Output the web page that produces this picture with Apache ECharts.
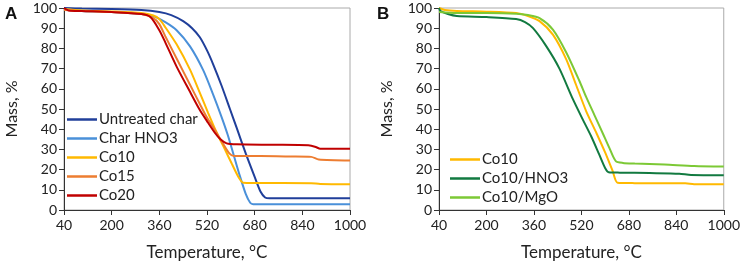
<!DOCTYPE html>
<html><head><meta charset="utf-8">
<script src="https://cdn.jsdelivr.net/npm/echarts@6/dist/echarts.min.js"></script>
<style>html,body{margin:0;padding:0;background:#fff}#c{width:743px;height:266px}</style>
</head><body><div id="c"></div>
<script>
// Tick labels
const xTicks = [40, 200, 360, 520, 680, 840, 1000];
const yTicks = [0, 10, 20, 30, 40, 50, 60, 70, 80, 90, 100];

// Panel A
const untreatedT = [40, 100, 200, 300, 360, 400, 440, 470, 496, 520, 541, 569, 597, 620, 650, 681, 700, 715, 730, 850, 1000];
const untreatedM = [100, 99.7, 99.5, 99, 98, 96.5, 93.5, 90, 85.5, 79, 72, 61.5, 50, 40.5, 28, 16, 9, 6.2, 5.8, 5.8, 5.8];
const charHNO3T = [40, 100, 200, 300, 340, 380, 418, 463, 508, 541, 569, 590, 610, 630, 650, 665, 675, 800, 1000];
const charHNO3M = [99.5, 98.5, 98, 97, 96, 93, 89, 81, 69, 57, 46, 37, 27, 17, 8, 3.6, 2.9, 2.9, 2.9];
const co10T = [40, 100, 200, 300, 340, 360, 380, 418, 463, 496, 524, 552, 580, 603, 625, 642, 680, 870, 900, 1000];
const co10M = [99.5, 98.8, 98.3, 97.5, 96.3, 94.5, 90.5, 82, 69.5, 58, 48, 38.5, 30, 23, 16.5, 13.5, 13.4, 13.3, 12.9, 12.8];
const co15T = [40, 100, 200, 300, 340, 360, 380, 418, 463, 496, 519, 547, 575, 595, 610, 700, 800, 870, 895, 1000];
const co15M = [99, 98.5, 98, 97, 95, 92, 86, 75, 62, 52.5, 46, 39.5, 32.5, 28, 26.7, 26.7, 26.5, 26.3, 25, 24.5];
const co20T = [40, 55, 100, 200, 300, 330, 360, 380, 418, 463, 496, 520, 545, 565, 586, 620, 750, 860, 885, 900, 1000];
const co20M = [100, 98.8, 98.5, 98, 97, 95.5, 89, 83, 71, 58.5, 49.5, 44, 38.5, 35, 33, 32.5, 32.3, 32, 31.2, 30.3, 30.3];

// Panel B
const bCo10T = [40, 60, 100, 200, 300, 340, 379, 424, 469, 502, 536, 571, 600, 625, 642, 700, 870, 900, 1000];
const bCo10M = [100, 99, 98.5, 98.2, 97.5, 96, 93.5, 86.8, 74.6, 62, 49, 38, 28.5, 19.5, 13.5, 13.3, 13.2, 12.8, 12.7];
const bHNO3T = [40, 45, 70, 100, 200, 300, 330, 357, 402, 446, 491, 524, 553, 580, 600, 612, 650, 750, 850, 890, 1000];
const bHNO3M = [100, 98.5, 97, 96, 95.5, 94.5, 93, 90, 81, 70, 55, 45, 36.5, 27.5, 20.8, 18.7, 18.5, 18.3, 18, 17.3, 17.2];
const bMgOT = [40, 100, 200, 300, 340, 379, 424, 469, 513, 536, 564, 592, 615, 636, 660, 700, 800, 900, 1000];
const bMgOM = [98, 97.5, 97.5, 97.2, 96.5, 95, 89.3, 78, 64, 56, 47, 38, 30.5, 24.2, 23.3, 23, 22.5, 21.8, 21.5];

const pairs = (t, m) => t.map((v, i) => [v, m[i]]);
const FONT = 'Lato';

function xAxis(gi) {
  return {
    type: 'value', gridIndex: gi, min: 40, max: 1000,
    name: 'Temperature, °C', nameLocation: 'middle', nameGap: 34,
    nameTextStyle: { fontFamily: FONT, fontSize: 17, color: '#222' },
    axisLine: { lineStyle: { color: '#333', width: 1 } },
    axisTick: { show: true, inside: false, length: 5, customValues: xTicks, lineStyle: { color: '#333' } },
    axisLabel: { customValues: xTicks, formatter: v => String(v), fontFamily: FONT, fontSize: 14, color: '#222', margin: 8 },
    splitLine: { show: false }
  };
}
function yAxis(gi) {
  return {
    type: 'value', gridIndex: gi, min: 0, max: 100, interval: 10,
    name: 'Mass, %', nameLocation: 'middle', nameGap: 44, nameRotate: 90,
    nameTextStyle: { fontFamily: FONT, fontSize: 16, color: '#222' },
    axisLine: { show: true, lineStyle: { color: '#333', width: 1 } },
    axisTick: { show: true, inside: false, length: 5, lineStyle: { color: '#333' } },
    axisLabel: { fontFamily: FONT, fontSize: 14, color: '#222', margin: 7 },
    splitLine: { show: false }
  };
}
function line(name, data, color, gi) {
  return {
    name, type: 'line', data, xAxisIndex: gi, yAxisIndex: gi,
    showSymbol: false, symbol: 'none', smooth: 0.25,
    lineStyle: { color, width: 2 }, itemStyle: { color }
  };
}
function legend(names, left, top) {
  return {
    data: names, orient: 'vertical', left, top, icon: 'rect',
    itemWidth: 30, itemHeight: 2.5, itemGap: 4,
    textStyle: { fontFamily: FONT, fontSize: 15, color: '#222', padding: [0, 0, 0, -3] }
  };
}

const chart = echarts.init(document.getElementById('c'));
chart.setOption({
  animation: false,
  backgroundColor: '#fff',
  grid: [
    { left: 64, top: 8, width: 286, height: 205, show: true, borderColor: '#aaa', borderWidth: 1 },
    { left: 439, top: 8, width: 286, height: 205, show: true, borderColor: '#aaa', borderWidth: 1 }
  ],
  xAxis: [xAxis(0), xAxis(1)],
  yAxis: [yAxis(0), yAxis(1)],
  legend: [
    legend(['Untreated char', 'Char HNO3', 'Co10', 'Co15', 'Co20'], 62, 107),
    legend(['Co10 ', 'Co10/HNO3', 'Co10/MgO'], 445, 147)
  ],
  graphic: [
    { type: 'text', left: 5, top: 6, style: { text: 'A', font: 'bold 17px Arial', fill: '#111' } },
    { type: 'text', left: 377, top: 6, style: { text: 'B', font: 'bold 17px Arial', fill: '#111' } }
  ],
  series: [
    line('Untreated char', pairs(untreatedT, untreatedM), '#203F9A', 0),
    line('Char HNO3', pairs(charHNO3T, charHNO3M), '#4A90D9', 0),
    line('Co10', pairs(co10T, co10M), '#FFB900', 0),
    line('Co15', pairs(co15T, co15M), '#ED7D31', 0),
    line('Co20', pairs(co20T, co20M), '#C00000', 0),
    line('Co10 ', pairs(bCo10T, bCo10M), '#FFB900', 1),
    line('Co10/HNO3', pairs(bHNO3T, bHNO3M), '#127A40', 1),
    line('Co10/MgO', pairs(bMgOT, bMgOM), '#7CC935', 1)
  ]
});
</script></body></html>
